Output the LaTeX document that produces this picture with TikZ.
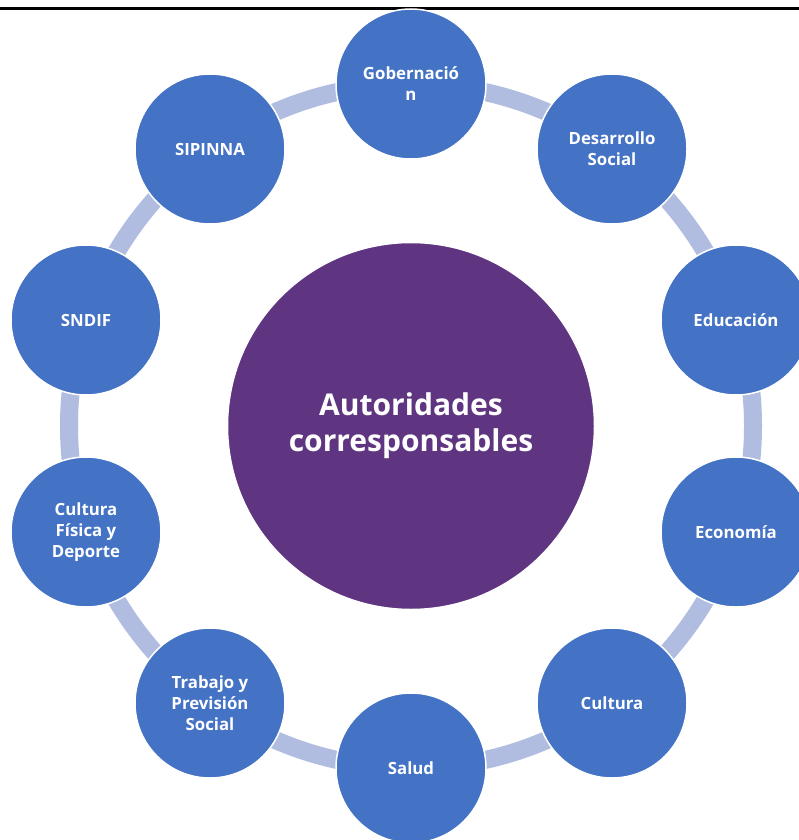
\documentclass[tikz,border=0pt]{standalone}
\usepackage{fontspec}
\setmainfont{Open Sans}
\definecolor{outerblue}{HTML}{4472C4}
\definecolor{ringblue}{HTML}{B1BDE0}
\definecolor{centerpurple}{HTML}{5F3582}
\tikzset{
  orbit/.style={circle, fill=outerblue, draw=white, line width=1.5pt, minimum size=150pt, inner sep=0pt,
    text=white, font=\bfseries\fontsize{16.8}{21}\selectfont, align=center},
  hub/.style={circle, fill=centerpurple, draw=white, line width=1.5pt, minimum size=367pt, inner sep=0pt,
    text=white, font=\bfseries\fontsize{30}{36}\selectfont, align=center},
  ring/.style={draw=ringblue, line width=18pt}
}
\begin{document}
\begin{tikzpicture}[x=1pt,y=-1pt]
\useasboundingbox (0,0) rectangle (799,840);
\clip (0,0) rectangle (799,840);
\fill[white] (0,0) rectangle (799,840);
\coordinate (ctr) at (411,426);
\draw[ring] (ctr) circle (342);
\draw[black, line width=2.5pt] (0,8.5) -- (799,8.5);
\node[hub] (hub) at (ctr) {Autoridades\\corresponsables};
\node[orbit] (gob) at (411,84) {Gobernació\\n};
\node[orbit] (des) at (612,149) {Desarrollo\\Social};
\node[orbit] (edu) at (736,320) {Educación};
\node[orbit] (eco) at (736,532) {Economía};
\node[orbit] (cul) at (612,703) {Cultura};
\node[orbit] (sal) at (411,768) {Salud};
\node[orbit] (tra) at (210,703) {Trabajo y\\Previsión\\Social};
\node[orbit] (cfd) at (86,532) {Cultura\\Física y\\Deporte};
\node[orbit] (snd) at (86,320) {SNDIF};
\node[orbit] (sip) at (210,149) {SIPINNA};
\end{tikzpicture}
\end{document}
